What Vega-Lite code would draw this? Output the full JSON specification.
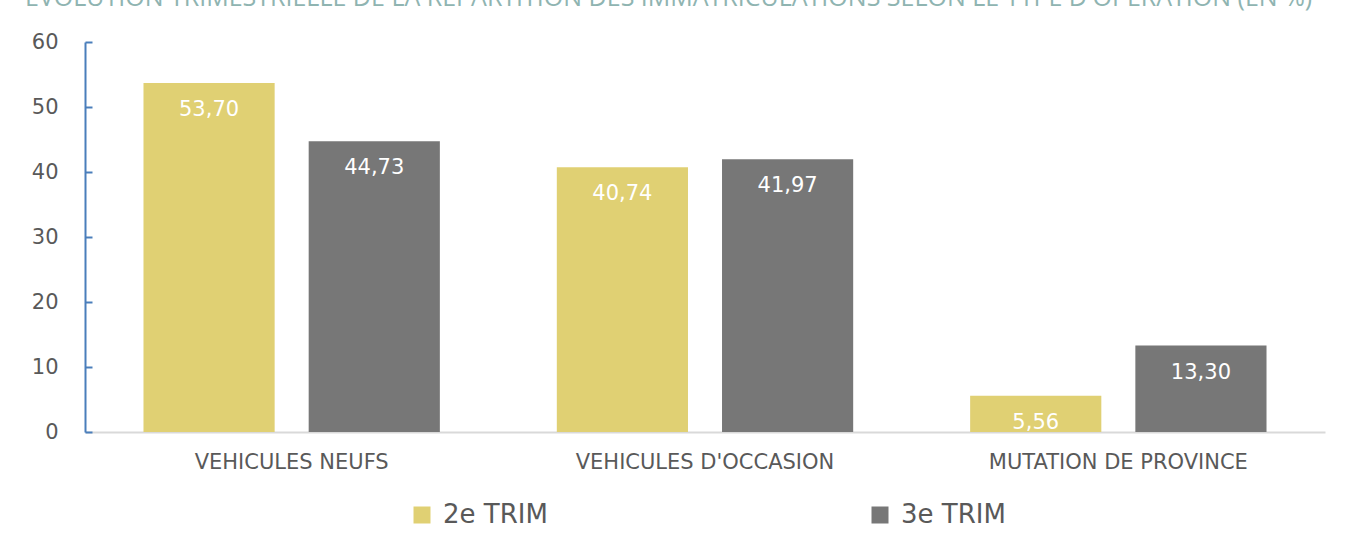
{
  "$schema": "https://vega.github.io/schema/vega-lite/v6.json",
  "autosize": {"type": "none"},
  "width": 1240,
  "height": 390,
  "padding": {"left": 85, "top": 42, "right": 22, "bottom": 116},
  "background": "white",
  "title": {
    "text": "EVOLUTION TRIMESTRIELLE DE LA REPARTITION DES IMMATRICULATIONS SELON LE TYPE D'OPERATION (EN %)",
    "anchor": "start",
    "frame": "group",
    "dx": -60,
    "dy": 4,
    "baseline": "alphabetic",
    "font": "Open Sans",
    "fontSize": 25,
    "fontWeight": "normal",
    "color": "#8fb4b1"
  },
  "data": {
    "values": [
      {"type": "VEHICULES NEUFS", "trim": "2e TRIM", "value": 53.70},
      {"type": "VEHICULES NEUFS", "trim": "3e TRIM", "value": 44.73},
      {"type": "VEHICULES D'OCCASION", "trim": "2e TRIM", "value": 40.74},
      {"type": "VEHICULES D'OCCASION", "trim": "3e TRIM", "value": 41.97},
      {"type": "MUTATION DE PROVINCE", "trim": "2e TRIM", "value": 5.56},
      {"type": "MUTATION DE PROVINCE", "trim": "3e TRIM", "value": 13.30}
    ]
  },
  "encoding": {
    "x": {
      "field": "type",
      "type": "nominal",
      "sort": null,
      "scale": {"paddingInner": 0, "paddingOuter": 0},
      "axis": {
        "title": null,
        "labelAngle": 0,
        "labelLimit": 0,
        "ticks": false,
        "labelPadding": 19,
        "labelFont": "DejaVu Sans",
        "labelFontSize": 21,
        "labelColor": "#595959",
        "domainColor": "#d9d9d9",
        "domainWidth": 2
      }
    },
    "xOffset": {
      "field": "trim",
      "type": "nominal",
      "scale": {"paddingInner": 0.206, "paddingOuter": 0.354}
    },
    "y": {
      "field": "value",
      "type": "quantitative",
      "scale": {"domain": [0, 60], "nice": false},
      "axis": {
        "title": null,
        "values": [0, 10, 20, 30, 40, 50, 60],
        "grid": false,
        "domainColor": "#4a7ebb",
        "domainWidth": 2,
        "tickColor": "#4a7ebb",
        "tickWidth": 2,
        "tickSize": -7,
        "labelPadding": 34,
        "labelFont": "DejaVu Sans",
        "labelFontSize": 21,
        "labelColor": "#595959"
      }
    }
  },
  "layer": [
    {
      "mark": {"type": "bar"},
      "encoding": {
        "color": {
          "field": "trim",
          "type": "nominal",
          "scale": {"domain": ["2e TRIM", "3e TRIM"], "range": ["#e0d073", "#777777"]},
          "legend": {
            "title": null,
            "orient": "none",
            "legendX": 324,
            "legendY": 460,
            "direction": "horizontal",
            "columns": 2,
            "columnPadding": 319,
            "padding": 0,
            "symbolType": "square",
            "symbolSize": 289,
            "symbolStrokeWidth": 0,
            "labelOffset": 8,
            "labelFont": "DejaVu Sans",
            "labelFontSize": 26,
            "labelColor": "#595959"
          }
        }
      }
    },
    {
      "mark": {
        "type": "text",
        "baseline": "middle",
        "dy": 27,
        "font": "DejaVu Sans",
        "fontSize": 21,
        "color": "white"
      },
      "encoding": {
        "text": {"field": "value", "type": "quantitative", "format": ".2f"}
      }
    }
  ],
  "config": {
    "view": {"stroke": null},
    "locale": {
      "number": {"decimal": ",", "thousands": " ", "grouping": [3], "currency": ["", " €"]}
    }
  }
}
